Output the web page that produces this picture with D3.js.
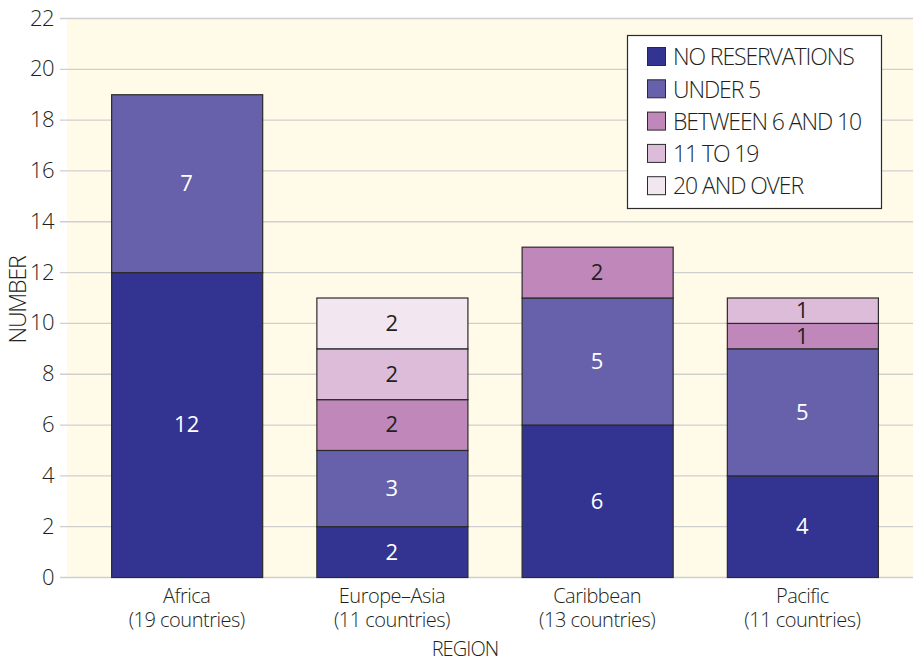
<!DOCTYPE html>
<html>
<head>
<meta charset="utf-8">
<script src="https://cdn.jsdelivr.net/npm/d3@7/dist/d3.min.js"></script>
<style>
  html, body { margin: 0; padding: 0; background: #ffffff; }
  svg { display: block; }
  text { font-family: "Open Sans", "Noto Sans", sans-serif; font-weight: 300; fill: #231f20; }
</style>
</head>
<body>
<svg id="chart" width="913" height="663"></svg>
<script>
// Regions and their country counts
const regions = ["Africa", "Europe\u2013Asia", "Caribbean", "Pacific"];
const countryCounts = ["(19 countries)", "(11 countries)", "(13 countries)", "(11 countries)"];

// Reservation-size groups (stack order, bottom to top)
const groups = ["NO RESERVATIONS", "UNDER 5", "BETWEEN 6 AND 10", "11 TO 19", "20 AND OVER"];
const groupColors = ["#333391", "#6661aa", "#c087bb", "#dcbcd9", "#f2e6f0"];
const labelColors = ["#ffffff", "#ffffff", "#231f20", "#231f20", "#231f20"];

// Number of countries in each group, per region
const noReservations = [12, 2, 6, 4];
const under5         = [7, 3, 5, 5];
const between6and10  = [0, 2, 2, 1];
const from11to19     = [0, 2, 0, 1];
const over20         = [0, 2, 0, 0];

const yTicks = [0, 2, 4, 6, 8, 10, 12, 14, 16, 18, 20, 22];

const seriesValues = [noReservations, under5, between6and10, from11to19, over20];
const rows = regions.map((r, i) => {
  const row = { region: r };
  groups.forEach((g, k) => { row[g] = seriesValues[k][i]; });
  return row;
});

const svg = d3.select("#chart");
const W = 913;
const plotLeft = 67, plotRight = 913, plotTop = 18, plotBottom = 577;

const x = d3.scaleBand()
  .domain(regions)
  .range([plotLeft, plotRight])
  .paddingInner(0.264)
  .paddingOuter(0.193)
  .align(0.557);

const y = d3.scaleLinear().domain([0, 22]).range([plotBottom, plotTop]);

// plot background
svg.append("rect")
  .attr("x", plotLeft).attr("y", y(22) + 1)
  .attr("width", plotRight - plotLeft).attr("height", y(0) - y(22) - 1)
  .attr("fill", "#fffbe8");

// gridlines + tick labels
const yAxis = d3.axisLeft(y).tickValues(yTicks).tickSize(-(W - 60)).tickPadding(6);
const gy = svg.append("g").attr("transform", "translate(60,0)").call(yAxis);
gy.select(".domain").remove();
gy.selectAll(".tick line").attr("stroke", "#cfcfcf").attr("stroke-width", 1.3);
gy.selectAll(".tick text")
  .attr("font-size", 22).attr("font-family", "'Open Sans', sans-serif")
  .attr("font-weight", 300)
  .attr("fill", "#231f20").attr("letter-spacing", -0.6);

// stacked bars
const stacked = d3.stack().keys(groups)(rows);
const layer = svg.append("g").selectAll("g").data(stacked).join("g")
  .attr("fill", (d, k) => groupColors[k]);

layer.selectAll("rect")
  .data(d => d.filter(s => s[1] - s[0] > 0))
  .join("rect")
  .attr("x", d => x(d.data.region) + 0.5)
  .attr("y", d => y(d[1]) + 0.5)
  .attr("width", x.bandwidth())
  .attr("height", d => y(d[0]) - y(d[1]))
  .attr("stroke", "#2b2b2b")
  .attr("stroke-width", 1.2);

// segment value labels
stacked.forEach((s, k) => {
  svg.append("g").selectAll("text")
    .data(s.filter(d => d[1] - d[0] > 0))
    .join("text")
    .attr("x", d => x(d.data.region) + x.bandwidth() / 2)
    .attr("y", d => (y(d[0]) + y(d[1])) / 2)
    .attr("dy", "0.36em")
    .attr("text-anchor", "middle")
    .attr("font-size", 22)
    .style("font-weight", 400)
    .style("fill", labelColors[k])
    .text(d => d[1] - d[0]);
});

// category labels (two lines each)
const xl = svg.append("g").selectAll("g").data(regions).join("g")
  .attr("transform", d => `translate(${x(d) + x.bandwidth() / 2},0)`);
xl.append("text").attr("y", 603).attr("text-anchor", "middle")
  .attr("font-size", 20).attr("letter-spacing", -0.5).text(d => d);
xl.append("text").attr("y", 627).attr("text-anchor", "middle")
  .attr("font-size", 20).attr("letter-spacing", -0.5)
  .text((d, i) => countryCounts[i]);

// axis titles
svg.append("text").attr("x", 465).attr("y", 656).attr("text-anchor", "middle")
  .attr("font-size", 20).attr("letter-spacing", -0.9).text("REGION");
svg.append("text")
  .attr("transform", "translate(26,300) rotate(-90)")
  .attr("text-anchor", "middle")
  .attr("font-size", 23).attr("letter-spacing", -1.1).text("NUMBER");

// legend
const lg = svg.append("g");
lg.append("rect").attr("x", 627.5).attr("y", 35.5).attr("width", 254).attr("height", 173)
  .attr("fill", "#ffffff").attr("stroke", "#2b2b2b").attr("stroke-width", 1.2);
const items = lg.selectAll("g.item").data(groups).join("g")
  .attr("transform", (d, i) => `translate(647,${57 + i * 32.3})`);
items.append("rect").attr("x", 0.5).attr("y", -9.5).attr("width", 18).attr("height", 18)
  .attr("fill", (d, i) => groupColors[i]).attr("stroke", "#2b2b2b").attr("stroke-width", 1);
items.append("text").attr("x", 26).attr("dy", "0.36em")
  .attr("font-size", 23).attr("letter-spacing", -1.1).text(d => d);
</script>
</body>
</html>
